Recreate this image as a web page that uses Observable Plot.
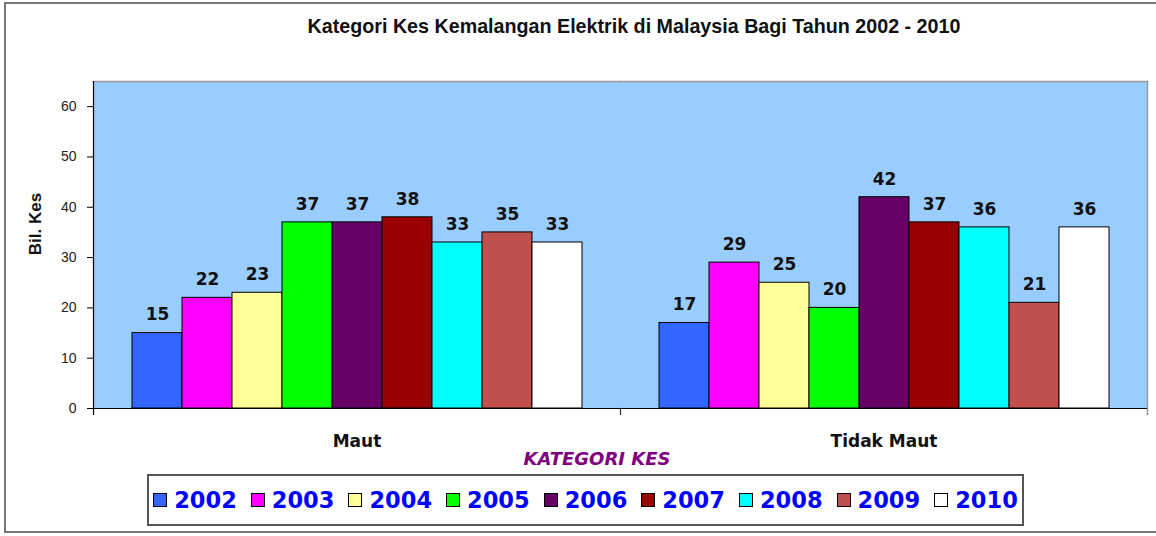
<!DOCTYPE html>
<html>
<head>
<meta charset="utf-8">
<script src="https://cdn.jsdelivr.net/npm/d3@7"></script>
<script src="https://cdn.jsdelivr.net/npm/@observablehq/plot@0.6"></script>
<style>
  html, body { margin: 0; padding: 0; background: #fff; }
  #wrap { position: relative; width: 1156px; height: 536px; overflow: hidden; background: #fff; }
  #border { position: absolute; left: 4px; top: 2px; width: 1170px; height: 531px; border: 2px solid #777; box-sizing: border-box; }
  #title { position: absolute; left: 0; width: 1268px; top: 17px; text-align: center; font: bold 19.7px "Liberation Sans", Arial, sans-serif; line-height: 1; color: #111; white-space: nowrap; }
  #ylabel { position: absolute; left: 36px; top: 224px; transform: translate(-50%, -50%) rotate(-90deg); font: bold 17px "Liberation Sans", Arial, sans-serif; color: #111; white-space: nowrap; }
  #chart { position: absolute; left: 0; top: 0; }
  #xlabel { position: absolute; left: 597px; top: 448px; transform: translateX(-50%); font: italic bold 18px "DejaVu Sans", Verdana, sans-serif; color: #800080; white-space: nowrap; }
  #legend { position: absolute; left: 147px; top: 474px; width: 877px; height: 52px; border: 2px solid #555; box-sizing: border-box; background: #fff; display: flex; align-items: center; justify-content: center; }
  .item { display: flex; align-items: center; margin: 0 7px; }
  .sw { width: 12px; height: 12px; border: 1px solid #000; margin-right: 7px; }
  .lt { font: bold 22.5px "DejaVu Sans", Verdana, sans-serif; color: #0000ff; line-height: 1; }
</style>
</head>
<body>
<div id="wrap">
  <div id="border"></div>
  <div id="title"></div>
  <div id="ylabel"></div>
  <div id="chart"></div>
  <div id="xlabel"></div>
  <div id="legend"></div>
</div>
<script>
const titleText = "Kategori Kes Kemalangan Elektrik di Malaysia Bagi Tahun 2002 - 2010";
const yLabel = "Bil. Kes";
const xLabel = "KATEGORI KES";
const categories = ["Maut", "Tidak Maut"];
const years = ["2002", "2003", "2004", "2005", "2006", "2007", "2008", "2009", "2010"];
const maut = [15, 22, 23, 37, 37, 38, 33, 35, 33];
const tidakMaut = [17, 29, 25, 20, 42, 37, 36, 21, 36];
const colors = ["#3366FF", "#FF00FF", "#FFFF99", "#00FF00", "#660066", "#990000", "#00FFFF", "#C0504D", "#FFFFFF"];
const yTicks = [0, 10, 20, 30, 40, 50, 60];
const yMax = 65;

const data = [];
years.forEach((yr, i) => data.push({cat: categories[0], year: yr, value: maut[i]}));
years.forEach((yr, i) => data.push({cat: categories[1], year: yr, value: tidakMaut[i]}));

const W = 1156, H = 470, mL = 93, mR = 9, mT = 81, mB = 62;
const innerH = H - mT - mB;

document.getElementById("title").textContent = titleText;
document.getElementById("ylabel").textContent = yLabel;
document.getElementById("xlabel").textContent = xLabel;

const chart = Plot.plot({
  width: W, height: H,
  marginLeft: mL, marginRight: mR, marginTop: mT, marginBottom: mB,
  style: {fontFamily: "'Liberation Sans', Arial, sans-serif", background: "transparent", overflow: "visible"},
  fx: {domain: categories, padding: 0, axis: null, label: null},
  x: {domain: years, paddingInner: 0, paddingOuter: 0.747, axis: null},
  y: {domain: [0, yMax], axis: null},
  color: {domain: years, range: colors},
  marks: [
    Plot.frame({fill: "#99CCFF", shapeRendering: "crispEdges"}),
    Plot.frame({anchor: "top", stroke: "#999", strokeWidth: 1.5}),
    Plot.frame({anchor: "right", stroke: "#999", strokeWidth: 1.5, fx: () => categories[1], insetBottom: -6}),
    Plot.barY(data, {fx: "cat", x: "year", y: "value", fill: "year", stroke: "#000", strokeWidth: 1}),
    Plot.text(data, {fx: "cat", x: "year", y: "value", text: d => String(d.value), dy: -18, lineAnchor: "middle",
      fontFamily: "'DejaVu Sans', Verdana, sans-serif", fontWeight: "bold", fontSize: 17, fill: "#111"}),
    Plot.ruleY([0], {stroke: "#000", strokeWidth: 1.2}),
    Plot.frame({anchor: "left", stroke: "#000", strokeWidth: 1.2, fx: () => categories[0], insetBottom: -6}),
    Plot.frame({anchor: "left", stroke: "#333", strokeWidth: 1.2, fx: () => categories[1], insetTop: innerH, insetBottom: -6}),
    Plot.axisY({ticks: yTicks, tickSize: 6, tickPadding: 11, fontSize: 14, fill: "#222", stroke: "#000", label: null}),
    Plot.axisFx({anchor: "bottom", tickSize: 0, tickPadding: 26, fontSize: 17, fontWeight: "bold",
      fontFamily: "'DejaVu Sans', Verdana, sans-serif", fill: "#111", label: null})
  ]
});
document.getElementById("chart").appendChild(chart);

const legend = document.getElementById("legend");
years.forEach((yr, i) => {
  const item = document.createElement("div");
  item.className = "item";
  const sw = document.createElement("div");
  sw.className = "sw";
  sw.style.background = colors[i];
  const lt = document.createElement("span");
  lt.className = "lt";
  lt.textContent = yr;
  item.appendChild(sw);
  item.appendChild(lt);
  legend.appendChild(item);
});
</script>
</body>
</html>
